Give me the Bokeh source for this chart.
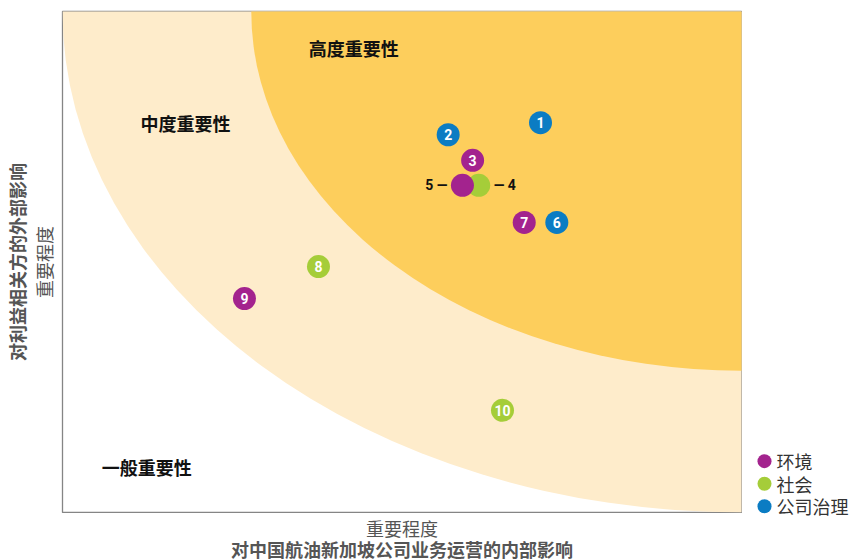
from bokeh.plotting import figure
from bokeh.models import ColumnDataSource, LinearAxis, FixedTicker, Range1d
from bokeh.layouts import row, column
from bokeh.core.properties import value
from bokeh.embed import file_html
from bokeh.resources import INLINE

# ---- data ----
ids = ["1", "2", "3", "4", "5", "6", "7", "8", "9", "10"]
category = ["公司治理", "公司治理", "环境", "社会", "环境", "公司治理", "环境", "社会", "环境", "社会"]
x_internal = [70.4, 56.8, 60.4, 61.3, 58.9, 72.8, 68.0, 37.7, 26.8, 64.8]
y_external = [77.8, 75.4, 70.3, 65.3, 65.3, 57.9, 57.9, 49.1, 42.7, 20.4]

categories = ["环境", "社会", "公司治理"]
cat_colors = ["#A3238E", "#A5CD39", "#0B7CC3"]

zone_names = ["中度重要性", "高度重要性"]
zone_rx = [100, 72.2]
zone_ry = [100, 71.7]
zone_colors = ["#FEECCB", "#FDCE5C"]

level_labels = ["高度重要性", "中度重要性", "一般重要性"]
level_x = [42.9, 18.1, 12.4]
level_y = [92.8, 77.8, 9.0]

x_title_1 = "重要程度"
x_title_2 = "对中国航油新加坡公司业务运营的内部影响"
y_title_1 = "重要程度"
y_title_2 = "对利益相关方的外部影响"

CJK = "Noto Sans CJK SC"

# ---- main plot ----
p = figure(frame_width=679, frame_height=501, output_backend="svg", toolbar_location=None,
           x_range=Range1d(0, 100), y_range=Range1d(0, 100),
           min_border_left=62, min_border_right=1, min_border_top=11, min_border_bottom=1,
           x_axis_type=None, y_axis_type=None)
p.grid.visible = False
p.outline_line_color = "#858585"
p.outline_line_width = 1.3
p.background_fill_color = "white"
p.border_fill_color = "white"

zsrc = ColumnDataSource(dict(w=[2 * r for r in zone_rx], h=[2 * r for r in zone_ry], c=zone_colors))
p.ellipse(x=100, y=100, width="w", height="h", fill_color="c", line_color=None, source=zsrc)

p.text(x=level_x, y=level_y, text=level_labels, text_font=value(CJK), text_font_style="bold",
       text_font_size="18px", text_color="#111111", text_align="center", text_baseline="middle")

order = ["社会", "公司治理", "环境"]
for cat in order:
    idx = [i for i, c in enumerate(category) if c == cat]
    col = cat_colors[categories.index(cat)]
    src = ColumnDataSource(dict(x=[x_internal[i] for i in idx], y=[y_external[i] for i in idx],
                                t=[ids[i] if ids[i] not in ("4", "5") else "" for i in idx]))
    p.scatter(x="x", y="y", size=23, fill_color=col, line_color=None, source=src)
    p.text(x="x", y="y", text="t", source=src, text_color="white", text_font=value("Roboto"),
           text_font_style="bold", text_font_size="14px", text_align="center", text_baseline="middle")

i4 = ids.index("4")
i5 = ids.index("5")
p.text(x=[x_internal[i5]], y=[y_external[i5]], text=["5 —"], x_offset=-15, text_align="right",
       text_baseline="middle", text_font=value("Roboto"), text_font_style="bold", text_font_size="14px",
       text_color="#111111")
p.text(x=[x_internal[i4]], y=[y_external[i4]], text=["— 4"], x_offset=15, text_align="left",
       text_baseline="middle", text_font=value("Roboto"), text_font_style="bold", text_font_size="14px",
       text_color="#111111")


def make_axis(label, bold, standoff):
    return LinearAxis(ticker=FixedTicker(ticks=[]), axis_line_color=None, major_tick_line_color=None,
                      minor_tick_line_color=None, major_label_text_font_size="0px",
                      axis_label=label, axis_label_text_font=CJK,
                      axis_label_text_font_style="bold" if bold else "normal",
                      axis_label_text_font_size="18px", axis_label_text_color="#555555",
                      axis_label_standoff=standoff, major_tick_in=0, major_tick_out=0,
                      major_label_standoff=0)


p.add_layout(make_axis(y_title_1, False, 6), "left")
p.add_layout(make_axis(y_title_2, True, -2), "left")

# ---- bottom titles ----
pb = figure(frame_width=679, frame_height=47, output_backend="svg", toolbar_location=None,
            x_range=p.x_range, y_range=Range1d(0, 47),
            min_border_left=62, min_border_right=1, min_border_top=0, min_border_bottom=0,
            x_axis_type=None, y_axis_type=None, outline_line_color=None)
pb.grid.visible = False
pb.text(x=[50], y=[33], text=[x_title_1], text_font=value(CJK), text_font_size="18px",
        text_color="#555555", text_align="center", text_baseline="middle")
pb.text(x=[50], y=[12], text=[x_title_2], text_font=value(CJK), text_font_style="bold",
        text_font_size="18px", text_color="#555555", text_align="center", text_baseline="middle")

# ---- legend panel ----
leg_row = list(range(len(categories)))
pl = figure(frame_width=112, frame_height=560, output_backend="svg", toolbar_location=None,
            x_range=Range1d(0, 112), y_range=Range1d(4.4, -20.4),
            min_border_left=0, min_border_right=0, min_border_top=0, min_border_bottom=0,
            x_axis_type=None, y_axis_type=None, outline_line_color=None)
pl.grid.visible = False
lsrc = ColumnDataSource(dict(i=leg_row, c=cat_colors, t=categories))
pl.scatter(x=22, y="i", size=14, fill_color="c", line_color=None, source=lsrc)
pl.text(x=34, y="i", text="t", source=lsrc, text_font=value(CJK), text_font_size="18px",
        text_color="#333333", text_align="left", text_baseline="middle")

layout = row(column(p, pb, spacing=0), pl, spacing=0)
open("out.html", "w").write(file_html(layout, INLINE))
